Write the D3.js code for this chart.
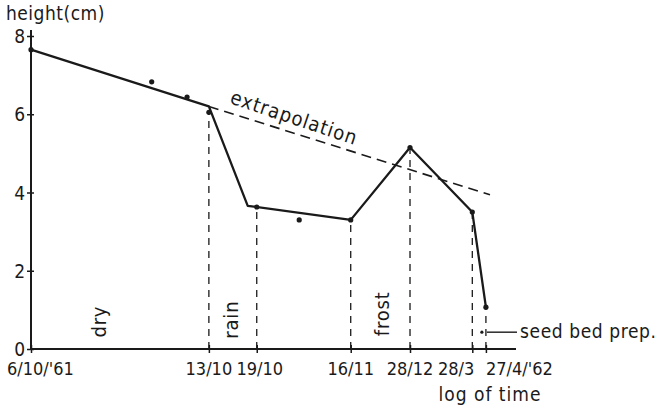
<!DOCTYPE html>
<html>
<head>
<meta charset="utf-8">
<script src="https://cdn.jsdelivr.net/npm/d3@7"></script>
<style>
  body { margin: 0; background: #fff; }
  svg { display: block; }
  text { font-family: "DejaVu Sans Condensed", "DejaVu Sans", sans-serif; fill: #1a1a1a; }
</style>
</head>
<body>
<svg width="667" height="410"></svg>
<script>
// days after 6/10/'61, time axis is log(days + 1)
const tickDays = [0, 7, 13, 41, 83, 173, 203];
const tickLabels = ["6/10/'61", "13/10", "19/10", "16/11", "28/12", "28/3", "27/4/'62"];
const yTicks = [0, 2, 4, 6, 8];

// drawn growth line
const lineDays = [0, 7, 11.6, 41, 83, 173, 203];
const lineHeight = [7.65, 6.2, 3.66, 3.3, 5.15, 3.5, 1.07];

// measured points
const pointDays = [0, 3.1, 5.2, 7, 13, 22, 41, 83, 173, 203];
const pointHeight = [7.65, 6.83, 6.44, 6.05, 3.63, 3.3, 3.3, 5.15, 3.5, 1.07];

// extrapolation of the early trend
const extraDays = [7, 213];
const extraHeight = [6.2, 3.94];

// vertical guides: day and height they reach
const guideDays = [7, 13, 41, 83, 173, 203];
const guideHeight = [6.05, 3.63, 3.3, 5.15, 3.5, 1.07];

const periods = [
    {label: "dry", day: 1.24, h: 0.7},
    {label: "rain", day: 9.5, h: 0.75},
    {label: "frost", day: 60, h: 0.9}
];

function drawChart() {
    let svg = d3.select("svg");
    let x = d3.scaleLog().domain([1, 290]).range([31, 516]);
    let y = d3.scaleLinear().domain([0, 8]).range([349, 36]);
    let xd = d => x(d + 1);
    let ink = "#1a1a1a";

    // vertical dashed guides
    svg.append("g").selectAll("line")
        .data(guideDays)
        .enter()
        .append("line")
        .attr("x1", d => xd(d))
        .attr("x2", d => xd(d))
        .attr("y1", y(0))
        .attr("y2", (d, i) => y(guideHeight[i]))
        .attr("stroke", ink)
        .attr("stroke-width", 1.3)
        .attr("stroke-dasharray", "7,6");

    // extrapolation
    svg.append("line")
        .attr("x1", xd(extraDays[0]))
        .attr("y1", y(extraHeight[0]))
        .attr("x2", xd(extraDays[1]))
        .attr("y2", y(extraHeight[1]))
        .attr("stroke", ink)
        .attr("stroke-width", 1.6)
        .attr("stroke-dasharray", "10,6");

    // axes
    let xAxis = svg.append("g")
        .attr("transform", "translate(0," + y(0) + ")")
        .call(d3.axisBottom(x).tickValues(tickDays.map(d => d + 1)).tickSize(4).tickFormat(""));
    xAxis.select(".domain").remove();
    xAxis.selectAll(".tick line").attr("y1", -4).attr("stroke", ink).attr("stroke-width", 1.5);
    svg.append("line")
        .attr("x1", x(1)).attr("x2", x(290))
        .attr("y1", y(0)).attr("y2", y(0))
        .attr("stroke", ink).attr("stroke-width", 2);

    let yAxis = svg.append("g")
        .attr("transform", "translate(" + x(1) + ",0)")
        .call(d3.axisLeft(y).tickValues(yTicks).tickSize(4).tickFormat(""));
    yAxis.select(".domain").remove();
    yAxis.selectAll(".tick line").attr("x1", 3).attr("stroke", ink).attr("stroke-width", 1.5);
    svg.append("line")
        .attr("x1", x(1)).attr("x2", x(1))
        .attr("y1", y(0)).attr("y2", 30)
        .attr("stroke", ink).attr("stroke-width", 2);

    svg.append("g").selectAll("text")
        .data(yTicks)
        .enter()
        .append("text")
        .attr("x", 25)
        .attr("y", d => y(d) + 7)
        .attr("text-anchor", "end")
        .style("font-size", "19px")
        .text(d => d);

    let anchors = ["start", "middle", "middle", "middle", "middle", "end", "start"];
    let shifts = [-24, 0, 3, 0, 0, 2, 0];
    svg.append("g").selectAll("text")
        .data(tickDays)
        .enter()
        .append("text")
        .attr("x", (d, i) => xd(d) + shifts[i])
        .attr("y", 375)
        .attr("text-anchor", (d, i) => anchors[i])
        .style("font-size", "18px")
        .text((d, i) => tickLabels[i]);

    svg.append("text")
        .attr("x", 490).attr("y", 401)
        .attr("text-anchor", "middle")
        .style("font-size", "19px")
        .style("letter-spacing", "1px")
        .text("log of time");

    svg.append("text")
        .attr("x", 6).attr("y", 20)
        .style("font-size", "19px")
        .style("letter-spacing", "0.5px")
        .text("height(cm)");

    // growth line
    let line = d3.line()
        .x(d => xd(d[0]))
        .y(d => y(d[1]));
    svg.append("path")
        .datum(lineDays.map((d, i) => [d, lineHeight[i]]))
        .attr("d", line)
        .attr("fill", "none")
        .attr("stroke", ink)
        .attr("stroke-width", 2.3)
        .attr("stroke-linejoin", "round");

    svg.append("g").selectAll("circle")
        .data(pointDays)
        .enter()
        .append("circle")
        .attr("cx", d => xd(d))
        .attr("cy", (d, i) => y(pointHeight[i]))
        .attr("r", 2.6)
        .style("fill", ink);

    // period labels
    svg.append("g").selectAll("text")
        .data(periods)
        .enter()
        .append("text")
        .attr("transform", d => "translate(" + (xd(d.day) + 6) + "," + y(d.h) + ") rotate(-90)")
        .attr("text-anchor", "middle")
        .style("font-size", "20px")
        .style("letter-spacing", "0.8px")
        .text(d => d.label);

    // extrapolation label along the dashed line
    svg.append("text")
        .attr("transform", "translate(229,103) rotate(18.5)")
        .style("font-size", "20px")
        .style("letter-spacing", "1px")
        .text("extrapolation");

    // seed bed annotation
    let seedX = xd(193.6), seedY = y(0.43);
    svg.append("circle")
        .attr("cx", seedX).attr("cy", seedY).attr("r", 1.6).style("fill", ink);
    svg.append("line")
        .attr("x1", seedX + 5).attr("x2", 517)
        .attr("y1", seedY).attr("y2", seedY)
        .attr("stroke", ink).attr("stroke-width", 1.4);
    svg.append("text")
        .attr("x", 520).attr("y", seedY + 6)
        .style("font-size", "19px")
        .style("letter-spacing", "0.6px")
        .text("seed bed prep.");
}

drawChart();
</script>
</body>
</html>
